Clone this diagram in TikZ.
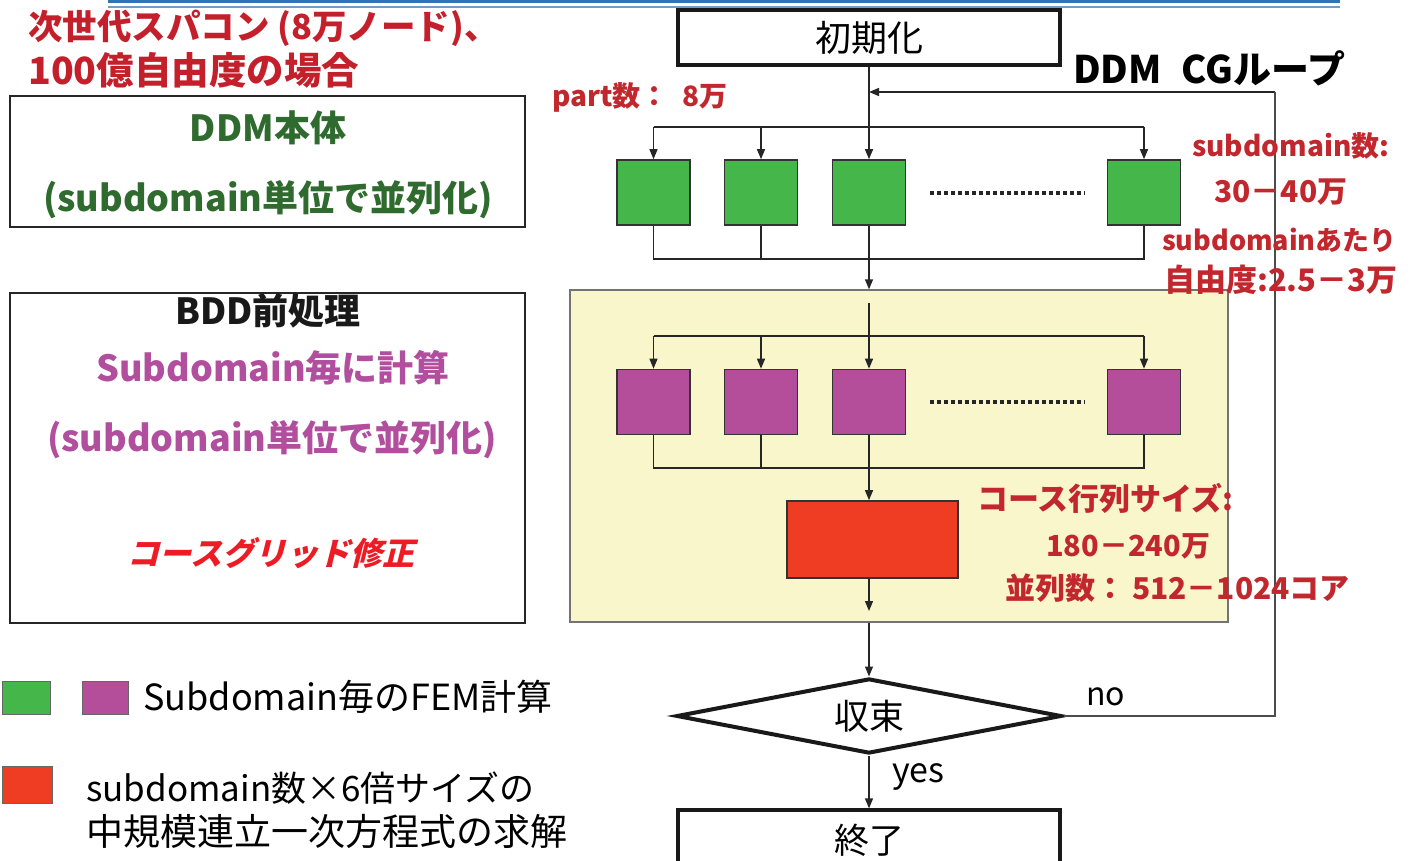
\documentclass[tikz,border=0pt]{standalone}
\usepackage{fontspec}
\setmainfont{Noto Sans CJK JP}
\usetikzlibrary{shapes.geometric,arrows.meta}
\newcommand\fsz[1]{\fontsize{#1}{#1}\selectfont}
\definecolor{ttlred}{HTML}{C4202B}
\definecolor{lblred}{HTML}{C1272D}
\definecolor{ddmgreen}{HTML}{2F6A2E}
\definecolor{bddpurple}{HTML}{B24E9E}
\definecolor{cgred}{HTML}{ED1C24}
\definecolor{boxgreen}{HTML}{45B649}
\definecolor{boxpurple}{HTML}{B54E9A}
\definecolor{boxred}{HTML}{EE3D23}
\definecolor{paleyellow}{HTML}{FAF6CC}
\definecolor{topblue}{HTML}{2F75B5}
\tikzset{
  arr/.style={draw=black!85, line width=1.3pt, -{Triangle[length=10pt,width=8pt]}},
  conn/.style={draw=black!85, line width=1.3pt},
  sub/.style={draw=black!80, line width=1.6pt, minimum width=73pt, minimum height=65pt, inner sep=0pt},
  flowbox/.style={draw=black!90, line width=3.2pt, minimum width=382pt, inner sep=0pt, font=\fsz{35}},
  infobox/.style={draw=black!85, line width=2pt, minimum width=515pt, inner sep=0pt},
  lbl/.style={text=lblred, inner sep=0pt, anchor=west},
  dots/.style={draw=black!85, line width=4.5pt, dash pattern=on 4pt off 3pt},
}
\begin{document}
\begin{tikzpicture}[x=1pt,y=-1pt]
\useasboundingbox (0,0) rectangle (1414,861);
\clip (0,0) rectangle (1414,861);
% top rule
\draw[topblue, line width=3pt] (108,2) -- (1340,2);
\draw[topblue!70, line width=1.5pt] (108,7) -- (1340,7);

% titles
\node[anchor=west, text=ttlred, font=\fsz{34.5}\bfseries, inner sep=0pt] (t1) at (28,28) {次世代スパコン (8万ノード)、};
\node[anchor=west, text=ttlred, font=\fsz{37.5}\bfseries, inner sep=0pt] (t2) at (28,70) {100億自由度の場合};

% DDM box
\node[infobox, minimum height=131pt] (ddm) at (267.5,161.5) {};
\node[text=ddmgreen, font=\fsz{36}\bfseries, inner sep=0pt] (ddm1) at (268,128) {DDM本体};
\node[text=ddmgreen, font=\fsz{36}\bfseries, inner sep=0pt] (ddm2) at (268,200) {(subdomain単位で並列化)};

% BDD box
\node[infobox, minimum height=330pt] (bdd) at (267.5,458) {};
\node[text=black!90, font=\fsz{36}\bfseries, inner sep=0pt] (bdd1) at (268,311) {BDD前処理};
\node[text=bddpurple, font=\fsz{36}\bfseries, inner sep=0pt] (bdd2) at (273,368) {Subdomain毎に計算};
\node[text=bddpurple, font=\fsz{36}\bfseries, inner sep=0pt] (bdd3) at (272,440) {(subdomain単位で並列化)};
\node[text=cgred, font=\fsz{32}\bfseries, xslant=0.25, inner sep=0pt] (bdd4) at (274,553) {コースグリッド修正};

% legend
\node[fill=boxgreen, draw=black!60, line width=1pt, minimum width=48pt, minimum height=33pt, inner sep=0pt] (lg1) at (26,697.5) {};
\node[fill=boxpurple, draw=black!60, line width=1pt, minimum width=46pt, minimum height=33pt, inner sep=0pt] (lg2) at (105,697.5) {};
\node[anchor=west, font=\fsz{36}, inner sep=0pt] (lgt1) at (143,697) {Subdomain毎のFEM計算};
\node[fill=boxred, draw=black!60, line width=1pt, minimum width=50pt, minimum height=37pt, inner sep=0pt] (lg3) at (27,784.5) {};
\node[anchor=west, font=\fsz{35}, inner sep=0pt] (lgt2) at (86,788) {subdomain数×6倍サイズの};
\node[anchor=west, font=\fsz{37}, inner sep=0pt] (lgt3) at (86,831) {中規模連立一次方程式の求解};

% flow
\node[flowbox, minimum height=55pt, font=\fsz{36}] (init) at (869,37.5) {初期化};
\node[font=\fsz{38}\bfseries, anchor=west, inner sep=0pt] (cg) at (1073,68) {DDM\hspace{20pt}CGループ};
\node[lbl, font=\fsz{28}\bfseries] (part) at (552,97) {part数：\hspace{14pt}8万};

\node[fill=paleyellow, draw=black!55, line width=1.3pt, minimum width=658pt, minimum height=332pt, inner sep=0pt] (yb) at (899,456) {};

% green
\node[sub, fill=boxgreen] (g1) at (653.5,192.5) {};
\node[sub, fill=boxgreen] (g2) at (761,192.5) {};
\node[sub, fill=boxgreen] (g3) at (869,192.5) {};
\node[sub, fill=boxgreen] (g4) at (1144,192.5) {};
\draw[dots] (930,193) -- (1085,193);
\coordinate (bt) at (869,127);
\coordinate (bj) at (869,259);
\draw[conn] (g1|-bt) -- (g4|-bt);
\draw[arr] (g1|-bt) -- (g1.north);
\draw[arr] (g2|-bt) -- (g2.north);
\draw[arr] (g4|-bt) -- (g4.north);
\draw[arr] (init) -- (g3);
\draw[conn] (g1.south) -- (g1|-bj) -- (g4|-bj) -- (g4.south);
\draw[conn] (g2.south) -- (g2|-bj);
\draw[arr] (g3.south) -- (g3.south|-yb.north);

% loop
\coordinate (lp) at (1275,92);
\draw[arr] (lp) -- (init.south|-lp);

% purple
\node[sub, fill=boxpurple] (p1) at (653.5,402) {};
\node[sub, fill=boxpurple] (p2) at (761,402) {};
\node[sub, fill=boxpurple] (p3) at (869,402) {};
\node[sub, fill=boxpurple] (p4) at (1144,402) {};
\draw[dots] (930,402) -- (1085,402);
\coordinate (yt) at (869,303);
\coordinate (pt) at (869,336);
\coordinate (pj) at (869,468);
\draw[conn] (p1|-pt) -- (p4|-pt);
\draw[arr] (p1|-pt) -- (p1.north);
\draw[arr] (p2|-pt) -- (p2.north);
\draw[arr] (p4|-pt) -- (p4.north);
\draw[arr] (yt) -- (p3.north);
\draw[conn] (p1.south) -- (p1|-pj) -- (p4|-pj) -- (p4.south);
\draw[conn] (p2.south) -- (p2|-pj);

% red
\node[fill=boxred, draw=black!80, line width=1.6pt, minimum width=171pt, minimum height=77pt, inner sep=0pt] (rb) at (872.5,539.5) {};
\draw[arr] (p3.south) -- (p3.south|-rb.north);
\coordinate (ro) at (869,611);
\draw[arr] (p3|-rb.south) -- (ro);

% decision
\node[diamond, draw=black!90, line width=4pt, fill=white, minimum width=385pt, minimum height=75pt, aspect=5, inner sep=0pt, font=\fsz{35}] (dia) at (869,716) {収束};
\draw[arr] (p3|-yb.south) -- (dia.north);
\draw[conn, draw=black!70] (dia.east) -| (lp);
\node[font=\fsz{32}, anchor=west, inner sep=0pt] (no) at (1086,697) {no};

\node[flowbox, minimum height=60pt] (fin) at (869,840) {終了};
\draw[arr] (dia.south) -- (fin.north);
\node[font=\fsz{34}, anchor=west, inner sep=0pt] (yes) at (892,777) {yes};

% right labels
\node[lbl, font=\fsz{28}\bfseries] (l1) at (1192,146) {subdomain数:};
\node[lbl, font=\fsz{30}\bfseries] (l2) at (1214,192) {30－40万};
\node[lbl, font=\fsz{27}\bfseries] (l3) at (1162,240) {subdomainあたり};
\node[lbl, font=\fsz{31}\bfseries] (l4) at (1164,280) {自由度:2.5－3万};
\node[lbl, font=\fsz{31}\bfseries] (l5) at (977,498) {コース行列サイズ:};
\node[lbl, font=\fsz{29}\bfseries] (l6) at (1046,546) {180－240万};
\node[lbl, font=\fsz{30}\bfseries] (l7) at (1005,588) {並列数：\ 512－1024コア};
\end{tikzpicture}
\end{document}
